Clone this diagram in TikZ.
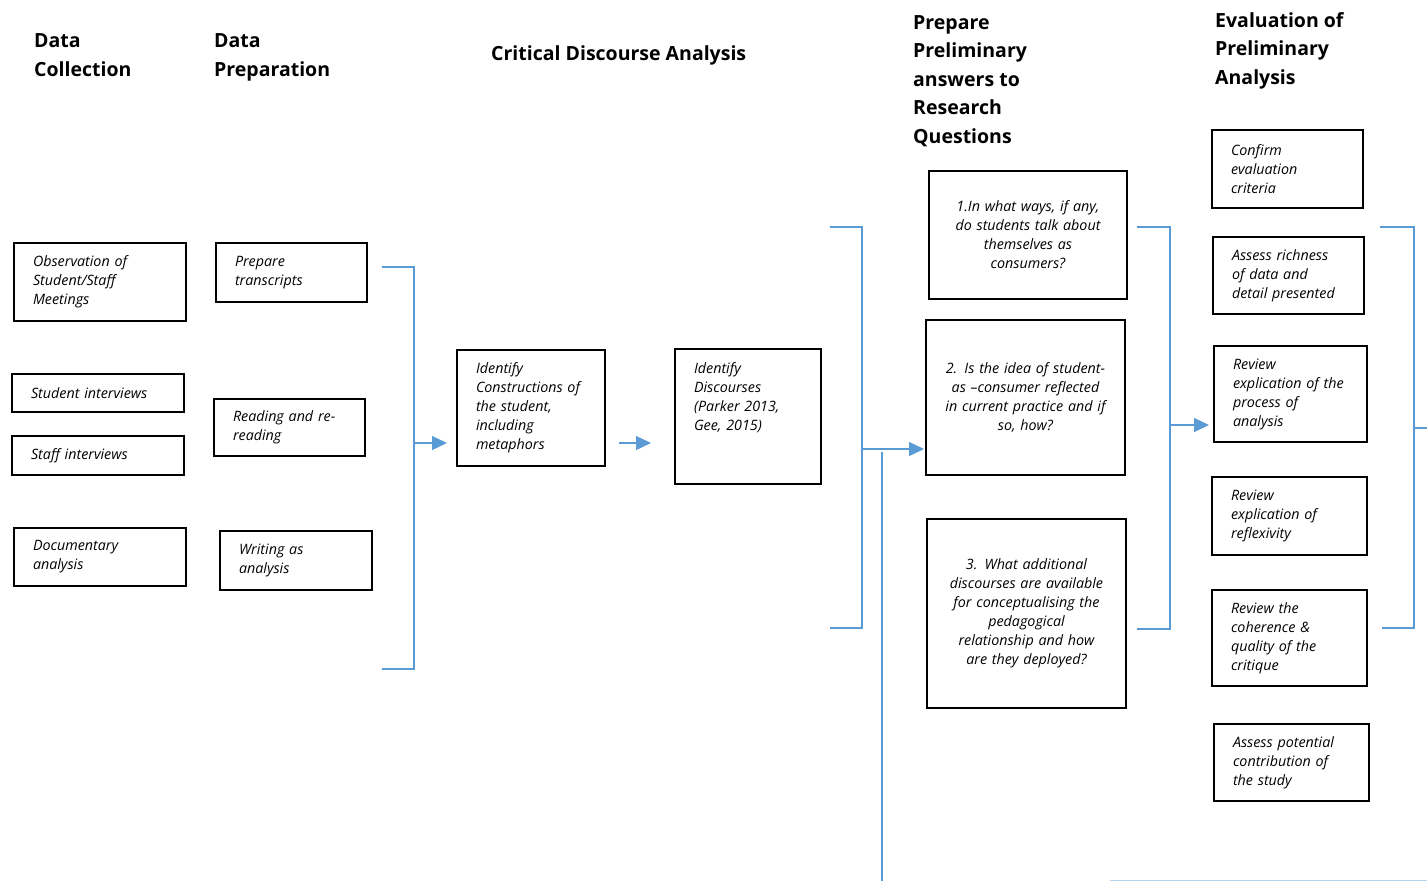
\documentclass[tikz,border=0pt]{standalone}
\usepackage{fontspec}
\setmainfont{Open Sans}
\usetikzlibrary{arrows.meta,calc}
\definecolor{linkblue}{RGB}{91,155,213}

\begin{document}
\begin{tikzpicture}[x=1pt, y=-1pt,
    stage/.style={draw, line width=2pt, inner xsep=19pt, inner ysep=0pt, align=left,
      font=\itshape\fontsize{14.3}{19}\selectfont},
    question/.style={stage, align=center, inner xsep=6pt},
    heading/.style={anchor=base west, inner sep=0pt, align=left,
      font=\bfseries\fontsize{19.5}{28.5}\selectfont},
    link/.style={linkblue, line width=1.3pt},
    flow/.style={link, -{Triangle[length=15pt, width=14pt]}}]

    \useasboundingbox (0,0) rectangle (1427,881);

    \node[heading] (hcollect) at (34,76) {Data\\Collection};
    \node[heading] (hprepare) at (214,76) {Data\\Preparation};
    \node[heading] (hcda) at (491,60) {Critical Discourse Analysis};
    \node[heading] (hanswers) at (913,143) {Prepare\\Preliminary\\answers to\\Research\\Questions};
    \node[heading] (heval) at (1215,84) {Evaluation of\\Preliminary\\Analysis};

    \node[stage, text width=134pt, minimum height=78pt] (observe) at (100,282) {Observation of\\Student/Staff\\Meetings};
    \node[stage, text width=134pt, minimum height=38pt] (students) at (98,393) {Student interviews};
    \node[stage, text width=134pt, minimum height=39pt] (staff) at (98,455.5) {Staff interviews};
    \node[stage, text width=134pt, minimum height=58pt] (documents) at (100,557) {Documentary\\analysis};

    \node[stage, text width=113pt, minimum height=59pt] (transcripts) at (291.5,272.5) {Prepare\\transcripts};
    \node[stage, text width=113pt, minimum height=57pt] (reading) at (289.5,427.5) {Reading and re-\\reading};
    \node[stage, text width=114pt, minimum height=59pt] (writing) at (296,560.5) {Writing as\\analysis};

    \node[stage, text width=110pt, minimum height=116pt] (constructs) at (531,408) {Identify\\Constructions of\\the student,\\including\\metaphors};
    \node[stage, text width=108pt, minimum height=135pt, text height=14pt, text depth=101pt] (discourses) at (748,416.5) {Identify\\Discourses\\(Parker 2013,\\Gee, 2015)};

    \node[question, text width=186pt, minimum height=128pt] (rq1) at (1028,235) {1.In what ways, if any,\\do students talk about\\themselves as\\consumers?};
    \node[question, text width=187pt, minimum height=155pt] (rq2) at (1025.5,397.5) {2. Is the idea of student-\\as --consumer reflected\\in current practice and if\\so, how?};
    \node[question, text width=187pt, minimum height=189pt] (rq3) at (1026.5,613.5) {3. What additional\\discourses are available\\for conceptualising the\\pedagogical\\relationship and how\\are they deployed?};

    \node[stage, text width=113pt, minimum height=78pt] (criteria) at (1287.5,169) {Confirm\\evaluation\\criteria};
    \node[stage, text width=113pt, minimum height=77pt] (richness) at (1288.5,275.5) {Assess richness\\of data and\\detail presented};
    \node[stage, text width=115pt, minimum height=96pt] (process) at (1290.5,394) {Review\\explication of the\\process of\\analysis};
    \node[stage, text width=117pt, minimum height=78pt] (reflexivity) at (1289.5,516) {Review\\explication of\\reflexivity};
    \node[stage, text width=117pt, minimum height=96pt] (coherence) at (1289.5,638) {Review the\\coherence \&\\quality of the\\critique};
    \node[stage, text width=117pt, minimum height=77pt] (contribution) at (1291.5,762.5) {Assess potential\\contribution of\\the study};

    \coordinate (prepin) at (414,443);
    \coordinate (cdain) at (862,449);
    \coordinate (rqin) at (1170,425);
    \coordinate (evalout) at (1414,428);

    \draw[link] (382,267) -| (prepin) |- (382,669);
    \draw[flow, shorten >=9pt] (prepin) -- (prepin -| constructs.west);
    \draw[flow, shorten <=13pt, shorten >=23pt] (prepin -| constructs.east) -- (prepin -| discourses.west);

    \draw[link] (830,227) -| (cdain) |- (830,628);
    \draw[flow, shorten >=1pt] (cdain) -- (cdain -| rq2.west);
    \draw[link] (882,452) -- (882,881);
    \draw[linkblue!45, line width=1pt] (1110,880) -- (1427,880);

    \draw[link] (1137,227) -| (rqin) |- (1137,629);
    \draw[flow, shorten >=4pt] (rqin) -- (rqin -| process.west);

    \draw[link] (1380,227) -| (evalout) |- (1382,628);
    \draw[link] (evalout) -- (1427,428);
\end{tikzpicture}
\end{document}
